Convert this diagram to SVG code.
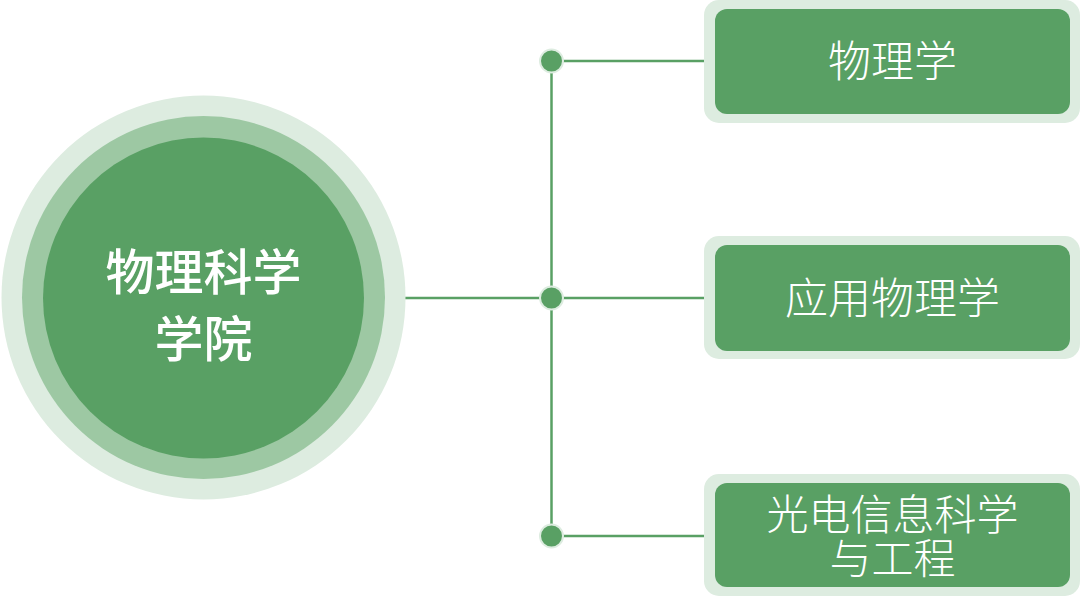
<svg xmlns="http://www.w3.org/2000/svg" width="1080" height="597" viewBox="0 0 1080 597">
<style>
.halo{fill:#ddece0}
.box{fill:#59a064}
.lbl{font-family:"Noto Sans CJK SC","Noto Sans",sans-serif;font-weight:300;font-size:43px;fill:#ffffff;text-anchor:middle}
.lbl2{font-family:"Noto Sans CJK SC","Noto Sans",sans-serif;font-weight:300;font-size:42px;fill:#ffffff;text-anchor:middle}
.title{font-family:"Noto Sans CJK SC","Noto Sans",sans-serif;font-weight:500;font-size:49px;fill:#ffffff;text-anchor:middle}
.ln{stroke:#59a064;stroke-width:2.5;fill:none}
.dot{fill:#59a064;stroke:#ddece0;stroke-width:2}
</style>
<rect width="1080" height="597" fill="#ffffff"/>
<g id="connectors">
<line class="ln" x1="401" y1="298" x2="715" y2="298"/>
<line class="ln" x1="551.5" y1="61" x2="551.5" y2="536"/>
<line class="ln" x1="551.5" y1="61" x2="715" y2="61"/>
<line class="ln" x1="551.5" y1="536" x2="715" y2="536"/>
<circle class="dot" cx="551.5" cy="61" r="11.5"/>
<circle class="dot" cx="551.5" cy="298" r="11.5"/>
<circle class="dot" cx="551.5" cy="536" r="11.5"/>
</g>
<g id="center">
<circle cx="203.5" cy="297.5" r="202" fill="#ddece0"/>
<circle cx="203.5" cy="297.5" r="181.5" fill="#9dc8a3"/>
<circle cx="203.5" cy="298" r="160.5" fill="#59a064"/>
<text class="title" x="203.5" y="290">物理科学</text>
<text class="title" x="203.5" y="357">学院</text>
</g>
<g id="node1">
<rect class="halo" x="704" y="0" width="376" height="123" rx="15"/>
<rect class="box" x="715" y="9" width="355" height="105" rx="12"/>
<text class="lbl" x="892.5" y="77">物理学</text>
</g>
<g id="node2">
<rect class="halo" x="704" y="236" width="376" height="123" rx="15"/>
<rect class="box" x="715" y="245" width="355" height="106" rx="12"/>
<text class="lbl" x="892.5" y="314">应用物理学</text>
</g>
<g id="node3">
<rect class="halo" x="704" y="474" width="376" height="122" rx="15"/>
<rect class="box" x="715" y="483" width="355" height="104" rx="12"/>
<text class="lbl2" x="892.5" y="530">光电信息科学</text>
<text class="lbl2" x="892.5" y="574">与工程</text>
</g>
</svg>
